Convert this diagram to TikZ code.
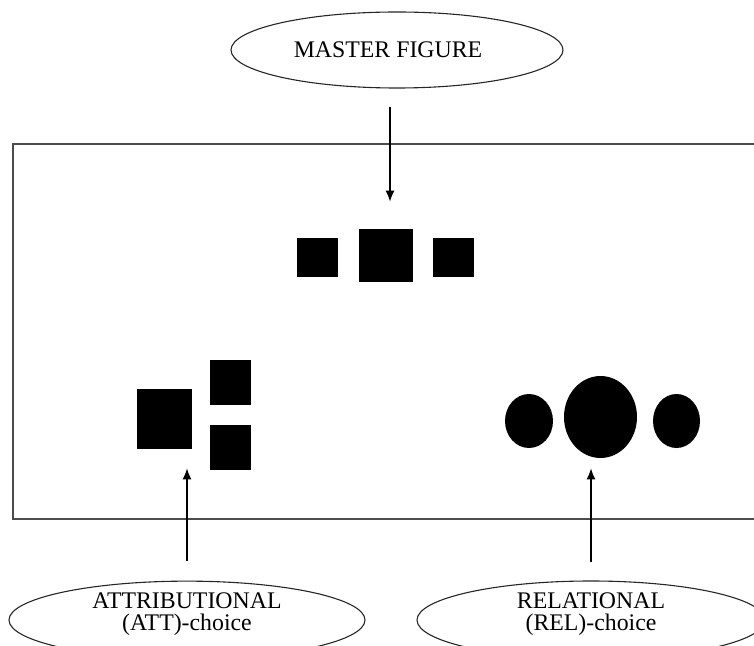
\documentclass[tikz,border=0pt]{standalone}
\usepackage{fontspec}
\setmainfont{Liberation Serif}
\usetikzlibrary{shapes, arrows.meta, positioning}

\begin{document}
\begin{tikzpicture}[x=0.5pt, y=-0.5pt, >=Latex,
    oval/.style={ellipse, draw=black!85, line width=0.55pt, inner sep=0pt, align=center, font=\fontsize{11.9}{11.3}\selectfont},
    sq/.style={rectangle, fill=black, draw=none, inner sep=0pt},
    dot/.style={ellipse, fill=black, draw=none, inner sep=0pt},
    frame/.style={draw=black!70, line width=0.75pt},
    arr/.style={->, line width=0.6pt, >={Latex[length=5.5pt, width=4.5pt]}}]

    \useasboundingbox (0,0) rectangle (754,646);
    \clip (0,0) rectangle (754,646);

    \draw[frame] (13,144) rectangle (780,519);

    \node (master) [oval, minimum width=166pt, minimum height=38pt] at (397,50) {MASTER FIGURE\hspace{9pt}};
    \node (att) [oval, minimum width=178pt, minimum height=38pt] at (187,620) {ATTRIBUTIONAL\\(ATT)-choice\\[-3pt]\mbox{}};
    \node (rel) [oval, minimum width=174pt, minimum height=39pt] at (591,620) {RELATIONAL\\(REL)-choice\\[-3pt]\mbox{}};

    %% master figure
    \node (sqL) [sq, minimum width=20.5pt, minimum height=19.5pt] at (317.5,257.5) {};
    \node (sqM) [sq, minimum width=27pt, minimum height=26.5pt] at (386,255.5) {};
    \node (sqR) [sq, minimum width=20.5pt, minimum height=19.5pt] at (453.5,257.5) {};

    %% att choice
    \node (attBig) [sq, minimum width=27.5pt, minimum height=30pt] at (164.5,419) {};
    \node (attTop) [sq, minimum width=20.5pt, minimum height=22.5pt] at (230.5,382.5) {};
    \node (attBot) [sq, minimum width=20.5pt, minimum height=22.5pt] at (230.5,447.5) {};

    %% rel choice
    \node (cL) [dot, minimum width=24pt, minimum height=27pt] at (529,421) {};
    \node (cM) [dot, minimum width=36.5pt, minimum height=41pt] at (600.5,417) {};
    \node (cR) [dot, minimum width=23.5pt, minimum height=27pt] at (676.5,421) {};

    \draw[arr, shorten <=9pt, shorten >=13.5pt] ([xshift=-3.5pt]master.south) -- ([xshift=-3.5pt]master.south |- sqM.north);
    \draw[arr, shorten <=10pt, shorten >=9.5pt] (att.north) -- (att.north |- attBig.south);
    \draw[arr, shorten <=9pt, shorten >=5pt] (rel.north) -- (rel.north |- cM.south);

\end{tikzpicture}
\end{document}
